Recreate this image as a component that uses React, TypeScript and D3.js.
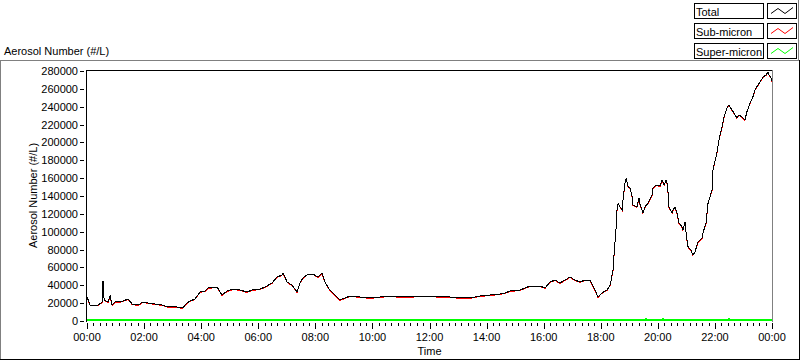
import * as d3 from 'd3';

// time of day in hours (00:00 -> 24:00)
const timeHours = [
  0.0, 0.11, 0.39, 0.53, 0.56, 0.6, 0.74, 0.81, 0.88, 0.98,
  1.16, 1.44, 1.58, 1.79, 1.96, 2.14, 2.38, 2.63, 2.84, 3.15,
  3.36, 3.5, 3.61, 3.78, 3.96, 4.13, 4.24, 4.56, 4.73, 4.91,
  5.12, 5.36, 5.61, 5.78, 6.06, 6.24, 6.48, 6.66, 6.83, 6.87,
  7.01, 7.18, 7.36, 7.46, 7.57, 7.74, 7.92, 8.09, 8.23, 8.34,
  8.44, 8.51, 8.69, 8.86, 9.04, 9.22, 9.57, 9.92, 10.27, 10.62,
  10.97, 11.32, 11.67, 12.02, 12.37, 12.72, 13.07, 13.42, 13.77, 14.12,
  14.47, 14.65, 14.82, 15.17, 15.52, 15.87, 16.05, 16.22, 16.4, 16.57,
  16.75, 16.92, 17.1, 17.27, 17.45, 17.62, 17.8, 17.9, 18.04, 18.22,
  18.33, 18.43, 18.47, 18.54, 18.57, 18.61, 18.68, 18.75, 18.78, 18.85,
  18.89, 18.96, 19.03, 19.1, 19.13, 19.27, 19.34, 19.38, 19.45, 19.48,
  19.55, 19.66, 19.8, 19.83, 19.94, 20.08, 20.15, 20.22, 20.29, 20.32,
  20.36, 20.39, 20.5, 20.53, 20.6, 20.67, 20.74, 20.85, 20.88, 20.95,
  21.02, 21.06, 21.16, 21.23, 21.3, 21.41, 21.55, 21.58, 21.69, 21.76,
  21.9, 21.93, 22.07, 22.14, 22.25, 22.32, 22.42, 22.49, 22.6, 22.67,
  22.77, 22.84, 22.95, 23.05, 23.12, 23.23, 23.33, 23.4, 23.51, 23.62,
  23.69, 23.79, 23.86, 23.9, 23.97, 24.0,
];

// Total aerosol number (#/L)
const totalCount = [
  26900, 17900, 17900, 21300, 44800, 23500, 21300, 28000, 17900, 21300,
  21300, 24600, 19000, 17900, 21300, 20200, 19000, 17900, 15700, 15700,
  14600, 20200, 22400, 24600, 32500, 33600, 37000, 38100, 29100, 33600,
  35800, 34700, 32500, 34700, 35800, 38100, 42600, 49300, 51500, 53800,
  43700, 40300, 32500, 42600, 48200, 52600, 52600, 49300, 53800, 43700,
  38100, 34700, 29100, 23500, 25800, 28000, 26900, 25800, 26900, 28000,
  26900, 26900, 28000, 28000, 26900, 26900, 25800, 25800, 28000, 29100,
  30200, 31400, 33600, 34700, 39200, 39200, 37000, 43700, 45900, 42600,
  45900, 49300, 45900, 43700, 45900, 45900, 34700, 26900, 31400, 34700,
  40300, 57100, 76200, 105300, 124300, 132200, 127700, 124300, 135500, 154600,
  160200, 150100, 149000, 138900, 129900, 127700, 137800, 129900, 124300, 121000,
  127700, 132200, 141100, 149000, 152300, 151200, 157900, 152300, 157900, 154600,
  143400, 127700, 121000, 124300, 127700, 121000, 109800, 105300, 101900, 110900,
  90700, 82900, 79500, 73900, 77300, 88500, 93000, 98600, 109800, 132200,
  146700, 169100, 188200, 202700, 217300, 228500, 238600, 241900, 236300, 233000,
  227400, 230700, 228500, 225100, 234100, 244200, 250900, 258700, 264300, 269900,
  273300, 275500, 278900, 275500, 272200, 268800,
];

// Sub-micron number (#/L)
const subMicronCount = [
  26400, 17400, 17400, 20800, 44300, 23000, 20800, 27500, 17400, 20800,
  20800, 24100, 18500, 17400, 20800, 19700, 18500, 17400, 15200, 15200,
  14100, 19700, 21900, 24100, 32000, 33100, 36500, 37600, 28600, 33100,
  35300, 34200, 32000, 34200, 35300, 37600, 42100, 48800, 51000, 53300,
  43200, 39800, 32000, 42100, 47700, 52100, 52100, 48800, 53300, 43200,
  37600, 34200, 28600, 23000, 25300, 27500, 26400, 25300, 26400, 27500,
  26400, 26400, 27500, 27500, 26400, 26400, 25300, 25300, 27500, 28600,
  29700, 30900, 33100, 34200, 38700, 38700, 36500, 43200, 45400, 42100,
  45400, 48800, 45400, 43200, 45400, 45400, 34200, 26400, 30900, 34200,
  39800, 56600, 75700, 104800, 123800, 131700, 127200, 123800, 135000, 154100,
  159700, 149600, 148500, 138400, 129400, 127200, 137300, 129400, 123800, 120500,
  127200, 131700, 140600, 148500, 151800, 150700, 157400, 151800, 157400, 154100,
  142900, 127200, 120500, 123800, 127200, 120500, 109300, 104800, 101400, 110400,
  90200, 82400, 79000, 73400, 76800, 88000, 92500, 98100, 109300, 131700,
  146200, 168600, 187700, 202200, 216800, 228000, 238100, 241400, 235800, 232500,
  226900, 230200, 228000, 224600, 233600, 243700, 250400, 258200, 263800, 269400,
  272800, 275000, 278400, 275000, 271700, 268300,
];

// Super-micron number (#/L), read on its own time grid
const superTimes = [
  0, 1, 2, 3, 4, 5, 6, 7, 8, 9,
  10, 11, 12, 13, 14, 15, 16, 17, 18, 19,
  19.55, 19.59, 19.63, 20, 20.14, 20.18, 20.22, 21, 22, 22.45,
  22.49, 22.53, 23, 24,
];
const superMicronCount = [
  900, 800, 700, 700, 800, 900, 800, 900, 800, 700,
  700, 700, 700, 700, 700, 800, 800, 900, 900, 1000,
  1000, 2600, 1000, 1100, 1000, 2600, 1000, 1000, 1100, 1100,
  2600, 1100, 1000, 1000,
];

const yTickValues = d3.range(0, 280001, 20000);
const xTickLabels = ['00:00', '02:00', '04:00', '06:00', '08:00', '10:00', '12:00', '14:00', '16:00', '18:00', '20:00', '22:00', '00:00'];
const legendNames = ['Total', 'Sub-micron', 'Super-micron'];
const seriesColors = ['#000000', '#ff0000', '#00ff00'];

const W = 800;
const H = 361;
const plotL = 87;
const plotR = 772;
const plotT = 70;
const plotB = 321;
const font = '"Liberation Sans", Arial, sans-serif';

export default function App() {
  const x = d3.scaleLinear().domain([0, 24]).range([plotL, plotR]);
  const y = d3.scaleLinear().domain([0, 280000]).range([plotB, plotT + 1]);

  const lineFor = (times: number[]) =>
    d3
      .line<number>()
      .x((_, i) => x(times[i]))
      .y((d) => y(d));

  // minor ticks: 9 divisions per 2 hours
  const minorTicks = d3.range(0, 24 * 9 / 2 + 1).map((k) => (k * 2) / 9);

  return (
    <div style={{ position: 'fixed', left: 0, top: 0 }}>
      <svg width={W} height={H} style={{ display: 'block', background: '#fff' }} fontFamily={font} fontSize={11}>
        {/* outer frame */}
        <line x1={0} x2={798} y1={60.5} y2={60.5} stroke="#808080" />
        <line x1={0.5} x2={0.5} y1={60} y2={360} stroke="#808080" />
        <line x1={0} x2={800} y1={359.5} y2={359.5} stroke="#000" />
        <line x1={799.5} x2={799.5} y1={60} y2={360} stroke="#000" />

        {/* title above */}
        <text x={4} y={55} fill="#000">Aerosol Number (#/L)</text>

        {/* legend */}
        <line x1={798.5} x2={798.5} y1={0} y2={61} stroke="#808080" />
        {legendNames.map((name, i) => {
          const top = 3.5 + i * 20;
          const zig = d3.line()([
            [771, top + 10],
            [778, top + 5],
            [785, top + 10],
            [789, top + 7],
            [793, top + 4],
          ]);
          return (
            <g key={name}>
              <rect x={694.5} y={top} width={69} height={15} fill="#fff" stroke="#000" />
              <text x={696} y={top + 12} fill="#000" fontSize={11}>{name}</text>
              <rect x={767.5} y={top} width={29} height={15} fill="#fff" stroke="#000" />
              <path d={zig ?? ''} fill="none" stroke={seriesColors[i]} />
            </g>
          );
        })}

        {/* plot area */}
        <rect x={plotL} y={plotT} width={plotR - plotL} height={plotB - plotT} fill="#fff" />
        <line x1={plotL - 0.5} x2={plotR} y1={plotT + 0.5} y2={plotT + 0.5} stroke="#000" />
        <line x1={plotL - 0.5} x2={plotL - 0.5} y1={plotT} y2={plotB + 1} stroke="#000" />
        <line x1={plotR + 0.5} x2={plotR + 0.5} y1={plotT} y2={plotB + 1} stroke="#808080" />

        {/* y axis */}
        {yTickValues.map((v) => (
          <g key={v}>
            <line x1={80} x2={84} y1={Math.round(y(v)) + 0.5} y2={Math.round(y(v)) + 0.5} stroke="#000" />
            <text x={78} y={y(v) + 4} textAnchor="end" fill="#000">{v}</text>
          </g>
        ))}
        <text transform={`translate(37,${(plotT + plotB) / 2}) rotate(-90)`} textAnchor="middle" fill="#000">
          Aerosol Number (#/L)
        </text>

        {/* x axis */}
        {minorTicks.map((t, k) => (
          <line
            key={k}
            x1={Math.round(x(t)) + 0.5}
            x2={Math.round(x(t)) + 0.5}
            y1={323}
            y2={k % 9 === 0 ? 329 : 326}
            stroke="#000"
          />
        ))}
        {xTickLabels.map((lab, i) => (
          <text key={i} x={x(i * 2)} y={341} textAnchor="middle" fill="#000">{lab}</text>
        ))}
        <text x={(plotL + plotR) / 2} y={355} textAnchor="middle" fill="#000">Time</text>

        {/* series */}
        <g shapeRendering="crispEdges" fill="none">
          <path d={lineFor(timeHours)(subMicronCount) ?? ''} stroke={seriesColors[1]} />
          <path d={lineFor(timeHours)(totalCount) ?? ''} stroke={seriesColors[0]} />
          <path d={lineFor(superTimes)(superMicronCount) ?? ''} stroke={seriesColors[2]} strokeWidth={2} />
        </g>
      </svg>
    </div>
  );
}
